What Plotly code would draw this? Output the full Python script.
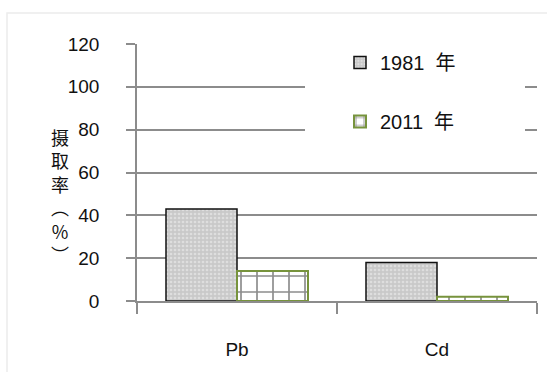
import plotly.graph_objects as go

# Intake rate (%) of lead and cadmium, two survey years
categories = ["Pb", "Cd"]
years = ["1981  年", "2011  年"]
rate_1981 = [43, 18]
rate_2011 = [14, 2]
y_ticks = [0, 20, 40, 60, 80, 100, 120]
y_title_chars = ["摄", "取", "率", "︵", "%", "︶"]

FONT = "Liberation Sans, Arial, Noto Sans CJK SC, sans-serif"
CJK = "Noto Sans CJK SC, sans-serif"
GRID = "#8c8c8c"

fig = go.Figure()
fig.add_trace(go.Bar(
    x=categories, y=rate_1981, name=years[0], legendgroup="a",
    marker=dict(
        color="#cfcfcf",
        line=dict(color="#111111", width=1.5),
        pattern=dict(shape=".", bgcolor="#c9c9c9", fgcolor="#f4f4f4",
                     size=4, solidity=0.35, fillmode="overlay"),
    ),
))
fig.add_trace(go.Bar(
    x=categories, y=rate_2011, name=years[1], legendgroup="b",
    marker=dict(
        color="#ffffff",
        line=dict(color="#77933c", width=2),
        pattern=dict(shape="+", bgcolor="#ffffff", fgcolor="#1a1a1a",
                     size=16, solidity=0.2, fillmode="overlay"),
    ),
))

W, H = 547, 372
L, R, T, B = 137, 10, 44, 71
pw, ph = W - L - R, H - T - B


def px_x(p):
    return (p - L) / pw


def px_y(p):
    return 1 - (p - T) / ph


fig.update_layout(
    width=W, height=H,
    margin=dict(l=L, r=R, t=T, b=B, pad=0),
    paper_bgcolor="white", plot_bgcolor="white",
    barmode="group", bargap=0.29, bargroupgap=0,
    font=dict(family=FONT, size=19, color="#111111"),
    showlegend=True,
    legend=dict(
        x=px_x(340), y=px_y(43), xanchor="left", yanchor="top",
        bgcolor="rgba(0,0,0,0)", borderwidth=0,
        traceorder="grouped", tracegroupgap=30,
        font=dict(family=FONT, size=20, color="#111111"),
    ),
    xaxis=dict(
        type="category", showgrid=False,
        showline=True, linecolor=GRID, linewidth=1.5,
        ticks="outside", tickson="boundaries", ticklen=11, tickcolor=GRID,
        tickwidth=1.5, ticklabelstandoff=30,
        tickfont=dict(family=FONT, size=19, color="#111111"),
    ),
    yaxis=dict(
        range=[0, 120], tickvals=y_ticks,
        showgrid=True, gridcolor=GRID, gridwidth=1.5,
        showline=True, linecolor=GRID, linewidth=1.5,
        zeroline=False,
        ticks="outside", ticklen=9, tickcolor=GRID, tickwidth=1.5,
        ticklabelstandoff=23,
        tickfont=dict(family=FONT, size=19, color="#111111"),
    ),
    shapes=[
        # faint outer frame of the chart
        dict(type="rect", xref="paper", yref="paper",
             x0=px_x(7), x1=px_x(560), y0=px_y(390), y1=px_y(13),
             line=dict(color="#ececec", width=1.5), fillcolor="rgba(0,0,0,0)",
             layer="below"),
        # white backing behind the legend
        dict(type="rect", xref="paper", yref="paper",
             x0=px_x(305), x1=px_x(525), y0=px_y(152), y1=px_y(30),
             line=dict(width=0), fillcolor="white", layer="above"),
    ],
    annotations=[
        # vertical axis title, one character per row
        dict(text="<br>".join(y_title_chars), xref="paper", yref="paper",
             x=px_x(60), y=px_y(195), xanchor="center", yanchor="middle",
             showarrow=False, borderpad=0,
             font=dict(family=CJK, size=18, color="#111111")),
    ],
)

fig.write_html("out.html")
